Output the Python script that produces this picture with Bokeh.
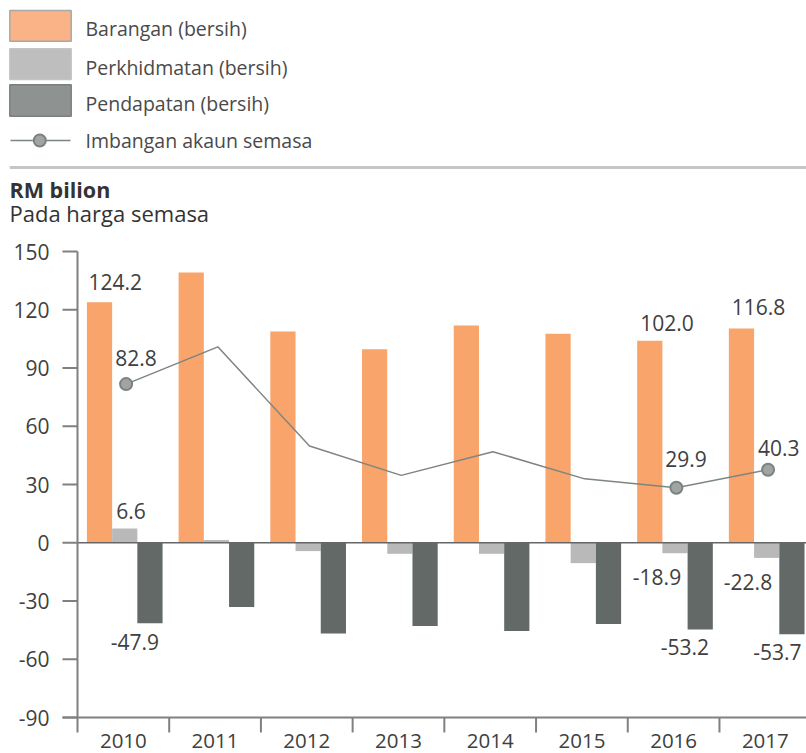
from bokeh.plotting import figure
from bokeh.models import Range1d, ColumnDataSource
from bokeh.core.properties import value
from bokeh.embed import file_html
from bokeh.resources import INLINE

# ---------------- data ----------------
years = ["2010", "2011", "2012", "2013", "2014", "2015", "2016", "2017"]
goods = [123.8, 139.2, 108.8, 99.6, 111.9, 107.6, 104.0, 110.3]
services = [7.4, 1.4, -4.3, -5.7, -5.7, -10.5, -5.4, -7.8]
income = [-41.4, -33.1, -46.8, -42.9, -45.4, -41.9, -44.7, -47.1]
current = [81.7, 100.9, 49.8, 34.7, 46.9, 32.9, 28.3, 37.6]
marker_years = ["2010", "2016", "2017"]
y_ticks = [-90, -60, -30, 0, 30, 60, 90, 120, 150]

legend_names = ["Barangan (bersih)", "Perkhidmatan (bersih)", "Pendapatan (bersih)", "Imbangan akaun semasa"]
unit_title = "RM bilion"
unit_sub = "Pada harga semasa"

label_texts = ["124.2", "82.8", "6.6", "-47.9", "102.0", "116.8", "29.9", "40.3", "-18.9", "-53.2", "-22.8", "-53.7"]
label_series = ["goods", "current", "services", "income", "goods", "goods", "current", "current",
                "services", "income", "services", "income"]
label_years = ["2010", "2010", "2010", "2010", "2016", "2017", "2016", "2017", "2016", "2016", "2017", "2017"]

# ---------------- styling / layout ----------------
FONT = "Open Sans"
TXT = "#404040"
C_GOODS = "#F8A46B"
C_SERV = "#B8B9B8"
C_INC = "#626967"
C_LINE = "#7D8583"
C_MARK = "#A0A5A3"
AXIS_C = "#808080"

W, H = 806, 753
AX_X = 77          # pixel x of the value axis
CAT_W = 91.71      # pixel width of one category
Y_TOP = 251        # pixel y of 150
Y_BOT = 717        # pixel y of -90
scale = (Y_BOT - Y_TOP) / 240.0
TICK = 15

BAR_W = 0.275
OFF = {"goods": 0.24, "services": 0.515, "income": 0.79, "current": 0.53}
VALS = {"goods": goods, "services": services, "income": income, "current": current}
label_dx = [15.7, 10, 6.3, -15, 17.3, 17, 9.7, 10.7, -18, -15.3, -18.7, -14.5]
label_dy = [-20.3, -26.6, -17.7, 18.7, -17.6, -21.3, -28.4, -22, 23.3, 17.3, 23.7, 17.7]

x0 = -AX_X / CAT_W
x1 = (W - AX_X) / CAT_W
y1 = 150 + Y_TOP / scale
y0 = -90 - (H - Y_BOT) / scale
tick_dx = TICK / CAT_W
tick_dy = TICK / scale

p = figure(width=W, height=H, x_range=Range1d(x0, x1), y_range=Range1d(y0, y1),
           x_axis_location=None, y_axis_location=None,
           min_border=0, min_border_left=0, min_border_right=0, min_border_top=0, min_border_bottom=0,
           outline_line_color=None, toolbar_location=None, output_backend="svg")
p.grid.visible = False
p.extra_x_ranges = {"px": Range1d(0, W)}
p.extra_y_ranges = {"px": Range1d(H, 0)}

# ---------------- header (legend + unit) ----------------
sw_fill = ["#FAB386", "#BDBEBD", "#8E9391"]
sw_line = ["#A8A8A8", "#C4C4C4", "#7B807E"]
p.quad(left=[9.3] * 3, right=[70.7] * 3, top=[10, 48.3, 84.3], bottom=[40.7, 79, 115.7],
       fill_color=sw_fill, line_color=sw_line, line_width=1.5, x_range_name="px", y_range_name="px")
p.line(x=[10, 70], y=[140, 140], line_color=C_LINE, line_width=1.5, x_range_name="px", y_range_name="px")
p.scatter(x=[39.3], y=[140], size=12, fill_color=C_MARK, line_color="#7B8280", line_width=2,
          x_range_name="px", y_range_name="px")
p.text(x=[85] * 4, y=[27.8, 66.7, 103.3, 140], text=legend_names,
       text_font=value(FONT), text_font_size="19.5px", text_color="#4A4A4A",
       text_baseline="middle", text_align="left", x_range_name="px", y_range_name="px")
p.line(x=[9.3, W], y=[167, 167], line_color="#C6C6C6", line_width=3, x_range_name="px", y_range_name="px")
p.text(x=[9], y=[188.8], text=[unit_title], text_font=value(FONT), text_font_size="21.5px",
       text_font_style="bold", text_color="#333333", text_baseline="middle",
       x_range_name="px", y_range_name="px")
p.text(x=[9], y=[212.5], text=[unit_sub], text_font=value(FONT), text_font_size="22px",
       text_color="#333333", text_baseline="middle", x_range_name="px", y_range_name="px")

# ---------------- bars ----------------
idx = list(range(len(years)))
src = ColumnDataSource(dict(
    xg=[i + OFF["goods"] for i in idx], xs=[i + OFF["services"] for i in idx],
    xi=[i + OFF["income"] for i in idx], xc=[i + OFF["current"] for i in idx],
    goods=goods, services=services, income=income, current=current))

p.vbar(x="xg", top="goods", bottom=0, width=BAR_W, fill_color=C_GOODS, line_color=None, source=src)
p.vbar(x="xs", top="services", bottom=0, width=BAR_W, fill_color=C_SERV, line_color=None, source=src)
p.vbar(x="xi", top="income", bottom=0, width=BAR_W, fill_color=C_INC, line_color=None, source=src)

# ---------------- axes (drawn manually) ----------------
n = len(years)
p.segment(x0=[0], y0=[0], x1=[x1], y1=[0], line_color="#666666", line_width=1.5)
p.segment(x0=[0], y0=[-90 - tick_dy], x1=[0], y1=[150], line_color=AXIS_C, line_width=2)
p.segment(x0=[-tick_dx] * len(y_ticks), y0=y_ticks, x1=[0] * len(y_ticks), y1=y_ticks,
          line_color=AXIS_C, line_width=2)
p.text(x=[0] * len(y_ticks), y=y_ticks, text=[str(t) for t in y_ticks], x_offset=-28,
       text_font=value(FONT), text_font_size="21px", text_color=TXT,
       text_align="right", text_baseline="middle")
p.segment(x0=[-tick_dx], y0=[-90], x1=[x1], y1=[-90], line_color=AXIS_C, line_width=2)
bnd = list(range(1, n + 1))
p.segment(x0=bnd, y0=[-90] * n, x1=bnd, y1=[-90 - tick_dy] * n, line_color=AXIS_C, line_width=2)
p.text(x=[i + 0.5 for i in idx], y=[-90] * n, text=years, y_offset=23,
       text_font=value(FONT), text_font_size="20.5px", text_color=TXT,
       text_align="center", text_baseline="middle")

# ---------------- current account line ----------------
p.line(x="xc", y="current", source=src, line_color=C_LINE, line_width=1.5)
mk = [years.index(y) for y in marker_years]
p.scatter(x=[m + OFF["current"] for m in mk], y=[current[m] for m in mk], size=12,
          fill_color=C_MARK, line_color="#7B8280", line_width=2)

# ---------------- value labels ----------------
lx, ly = [], []
for s, yr in zip(label_series, label_years):
    i = years.index(yr)
    lx.append(i + OFF[s])
    ly.append(VALS[s][i])
p.text(x=lx, y=ly, text=label_texts, x_offset=label_dx, y_offset=label_dy,
       text_font=value(FONT), text_font_size="21px", text_color=TXT,
       text_align="center", text_baseline="middle")

open("out.html", "w").write(file_html(p, INLINE))
